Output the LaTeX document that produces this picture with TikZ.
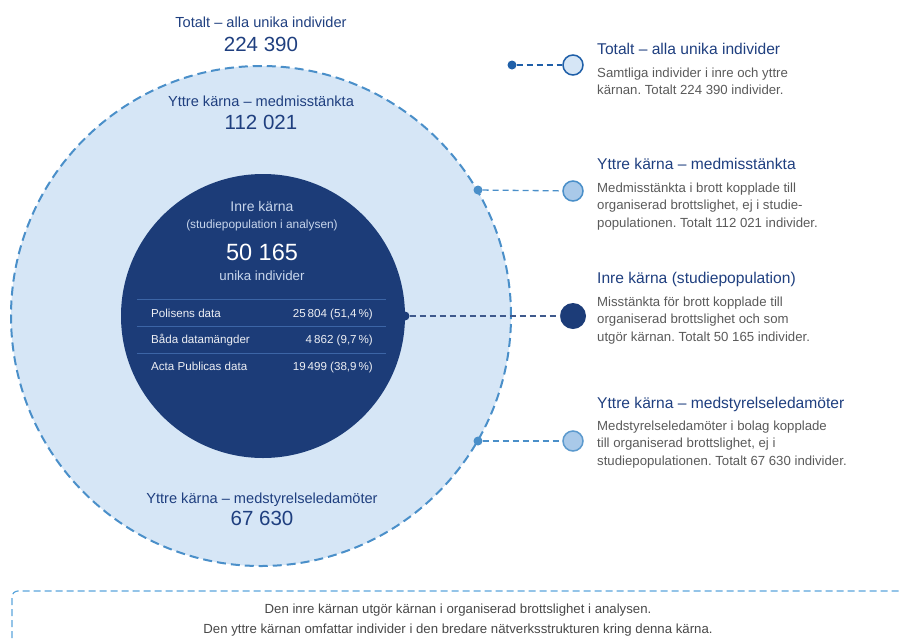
\documentclass[tikz,border=0pt]{standalone}
\usepackage{fontspec}
\setmainfont{Liberation Sans}
\frenchspacing
\definecolor{navy}{HTML}{1C3C78}
\definecolor{outerfill}{HTML}{D6E6F6}
\definecolor{dashblue}{HTML}{4A8FC9}
\definecolor{titleblue}{HTML}{1F3F7F}
\definecolor{descgray}{HTML}{5A5A5A}
\definecolor{boxblue}{HTML}{5AA5DC}
\definecolor{lightdot}{HTML}{A9C9E9}
\definecolor{tablerule}{HTML}{3C65A6}
\definecolor{innerlabel}{HTML}{C8D6EC}
\definecolor{totdot}{HTML}{1F5FA8}
\begin{document}
\begin{tikzpicture}[x=1pt,y=-1pt,
  lbl/.style={inner sep=0pt, anchor=base},
  lblw/.style={inner sep=0pt, anchor=base west},
  lble/.style={inner sep=0pt, anchor=base east},
  fbig/.style={font=\fontsize{20.5pt}{24pt}\selectfont},
  fmid/.style={font=\fontsize{14.6pt}{17pt}\selectfont},
  ftitle/.style={font=\fontsize{15.6pt}{18pt}\selectfont},
  fdesc/.style={font=\fontsize{13.2pt}{16pt}\selectfont},
  ftab/.style={font=\fontsize{11.6pt}{14pt}\selectfont},
  fsmall/.style={font=\fontsize{11.9pt}{14pt}\selectfont},
  fbot/.style={font=\fontsize{13.2pt}{15pt}\selectfont},
  conn/.style={line width=1.3pt, dash pattern=on 6pt off 4pt},
  smalldot/.style={circle, inner sep=0pt, minimum size=9pt},
  keydot/.style={circle, inner sep=0pt, minimum size=20pt, line width=1.5pt}
]
\useasboundingbox (0,0) rectangle (900,638);
\clip (0,0) rectangle (900,638);

% circles
\node[circle, inner sep=0pt, minimum size=500pt, fill=outerfill, draw=dashblue,
      line width=2pt, dash pattern=on 9pt off 5pt] (outer) at (261,316) {};
\node[circle, inner sep=0pt, minimum size=284pt, fill=navy] (inner) at (263,316) {};

% labels above / in outer circle
\node[lbl, fmid, text=titleblue] (totlbl) at (261,27) {Totalt – alla unika individer};
\node[lbl, fbig, text=titleblue] (totnum) at (261,51) {224 390};
\node[lbl, fmid, text=titleblue] (medlbl) at (261,106) {Yttre kärna – medmisstänkta};
\node[lbl, fbig, text=titleblue] (mednum) at (261,129) {112 021};
\node[lbl, fmid, text=titleblue] (stylbl) at (262,503) {Yttre kärna – medstyrelseledamöter};
\node[lbl, fbig, text=titleblue] (stynum) at (262,525) {67 630};

% inner circle text
\node[lbl, font=\fontsize{14pt}{17pt}\selectfont, text=innerlabel] (inlbl) at (262,211) {Inre kärna};
\node[lbl, fsmall, text=innerlabel] (insub) at (262,228) {(studiepopulation i analysen)};
\node[lbl, font=\fontsize{23.5pt}{27pt}\selectfont, text=white] (innum) at (262,260) {50 165};
\node[lbl, font=\fontsize{13.3pt}{16pt}\selectfont, text=innerlabel] (inunik) at (262,280) {unika individer};

% table
\draw[tablerule, line width=0.8pt] (137,299) -- (386,299);
\draw[tablerule, line width=0.8pt] (137,326) -- (386,326);
\draw[tablerule, line width=0.8pt] (137,353) -- (386,353);
\node[lblw, ftab, text=white!92!navy] (r1a) at (151,317) {Polisens data};
\node[lble, ftab, text=white!92!navy] (r1b) at (373,317) {25\,804 (51,4\,\%)};
\node[lblw, ftab, text=white!92!navy] (r2a) at (151,343) {Båda datamängder};
\node[lble, ftab, text=white!92!navy] (r2b) at (373,343) {4\,862 (9,7\,\%)};
\node[lblw, ftab, text=white!92!navy] (r3a) at (151,370) {Acta Publicas data};
\node[lble, ftab, text=white!92!navy] (r3b) at (373,370) {19\,499 (38,9\,\%)};

% connector dots
\node[smalldot, fill=totdot] (d1) at (512,65) {};
\node[smalldot, fill=dashblue] (d2) at (478,190) {};
\node[smalldot, fill=navy] (d3) at (405,316) {};
\node[smalldot, fill=dashblue] (d4) at (478,441) {};

% key circles
\node[keydot, fill=outerfill, draw=totdot] (k1) at (573,65) {};
\node[keydot, fill=lightdot, draw=dashblue] (k2) at (573,191) {};
\node[circle, inner sep=0pt, minimum size=26pt, fill=navy] (k3) at (573,316) {};
\node[keydot, fill=lightdot, draw=dashblue!90!white] (k4) at (573,441) {};

% connectors
\draw[conn, totdot] (d1) -- (k1);
\draw[conn, dashblue] (d2) -- (k2);
\draw[conn, navy!85!white] (d3) -- (k3);
\draw[conn, dashblue] (d4) -- (k4);

% key texts
\node[lblw, ftitle, text=titleblue] (t1) at (597,54) {Totalt – alla unika individer};
\node[lblw, fdesc, text=descgray] (t1a) at (597,77) {Samtliga individer i inre och yttre};
\node[lblw, fdesc, text=descgray] (t1b) at (597,94.5) {kärnan. Totalt 224 390 individer.};

\node[lblw, ftitle, text=titleblue] (t2) at (597,169) {Yttre kärna – medmisstänkta};
\node[lblw, fdesc, text=descgray] (t2a) at (597,192) {Medmisstänkta i brott kopplade till};
\node[lblw, fdesc, text=descgray] (t2b) at (597,209.5) {organiserad brottslighet, ej i studie-};
\node[lblw, fdesc, text=descgray] (t2c) at (597,227) {populationen. Totalt 112 021 individer.};

\node[lblw, ftitle, text=titleblue] (t3) at (597,283) {Inre kärna (studiepopulation)};
\node[lblw, fdesc, text=descgray] (t3a) at (597,306) {Misstänkta för brott kopplade till};
\node[lblw, fdesc, text=descgray] (t3b) at (597,323.5) {organiserad brottslighet och som};
\node[lblw, fdesc, text=descgray] (t3c) at (597,341) {utgör kärnan. Totalt 50 165 individer.};

\node[lblw, ftitle, text=titleblue] (t4) at (597,408) {Yttre kärna – medstyrelseledamöter};
\node[lblw, fdesc, text=descgray] (t4a) at (597,430) {Medstyrelseledamöter i bolag kopplade};
\node[lblw, fdesc, text=descgray] (t4b) at (597,447.5) {till organiserad brottslighet, ej i};
\node[lblw, fdesc, text=descgray] (t4c) at (597,465) {studiepopulationen. Totalt 67 630 individer.};

% bottom box
\coordinate (bl) at (12,660);
\coordinate (tr) at (912,591);
\draw[boxblue, line width=1.2pt, dash pattern=on 7pt off 4pt, rounded corners=6pt] (bl) |- (tr);
\node[lbl, fbot, text=descgray!80!black] (b1) at (458,613) {Den inre kärnan utgör kärnan i organiserad brottslighet i analysen.};
\node[lbl, fbot, text=descgray!80!black] (b2) at (458,633) {Den yttre kärnan omfattar individer i den bredare nätverksstrukturen kring denna kärna.};
\end{tikzpicture}
\end{document}
